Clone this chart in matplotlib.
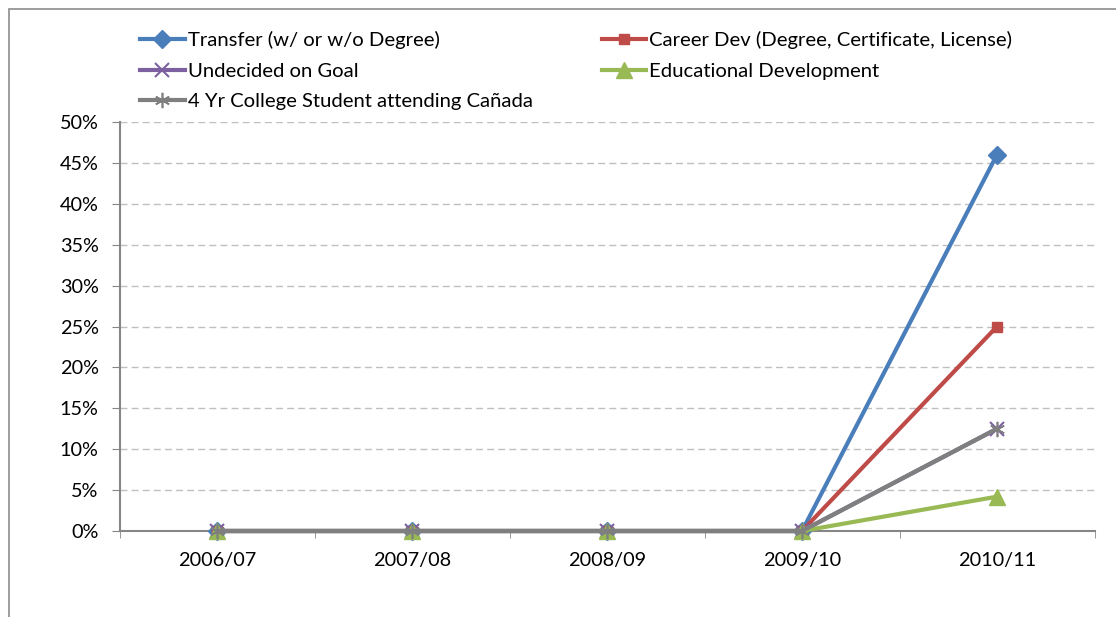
import matplotlib
matplotlib.use('Agg')
import matplotlib.pyplot as plt
from matplotlib.patches import Rectangle
from matplotlib.ticker import PercentFormatter

years = ['2006/07', '2007/08', '2008/09', '2009/10', '2010/11']
transfer = [0, 0, 0, 0, 0.46]
career_dev = [0, 0, 0, 0, 0.25]
undecided = [0, 0, 0, 0, 0.125]
educational = [0, 0, 0, 0, 0.042]
four_yr = [0, 0, 0, 0, 0.125]

plt.rcParams['font.family'] = ['Lato', 'DejaVu Sans']

W, H = 1116, 617
fig = plt.figure(figsize=(W / 100, H / 100), dpi=100)
fig.patches.append(Rectangle((9 / W, -0.1), 1.2, 1 - 9 / H + 0.1,
                             transform=fig.transFigure, fill=False,
                             edgecolor='#8c8c8c', lw=1.2))

ax = fig.add_axes([119.5 / W, 86 / H, 975 / W, 409 / H])
x = range(len(years))

h_tr, = ax.plot(x, transfer, color='#4a7ebb', lw=3, marker='D', ms=9,
                label='Transfer (w/ or w/o Degree)', clip_on=False)
h_cd, = ax.plot(x, career_dev, color='#be4b48', lw=3, marker='s', ms=7,
                label='Career Dev (Degree, Certificate, License)', clip_on=False)
h_un, = ax.plot(x, undecided, color='#7d60a0', lw=3, marker='x', ms=10, mew=1.5,
                label='Undecided on Goal', clip_on=False)
h_ed, = ax.plot(x, educational, color='#98b954', lw=3, marker='^', ms=11,
                label='Educational Development', clip_on=False)
h_4y, = ax.plot(x, four_yr, color='#7f7f7f', lw=3, marker=(6, 2, 0), ms=11,
                mew=1.2, mec='#7f7f7f', label='4 Yr College Student attending Cañada',
                clip_on=False)

ax.set_xlim(-0.5, 4.5)
ax.set_ylim(0, 0.5)
ax.set_yticks([i * 0.05 for i in range(11)])
ax.yaxis.set_major_formatter(PercentFormatter(1.0, decimals=0))
ax.set_xticks(list(x))
ax.set_xticklabels(years)
ax.set_xticks([i + 0.5 for i in range(-1, 5)], minor=True)
ax.tick_params(axis='x', which='major', length=0, pad=15, labelsize=14.3)
ax.tick_params(axis='x', which='minor', length=5, color='#868686')
ax.tick_params(axis='y', length=6, color='#868686', labelsize=14.3, pad=9)

ax.grid(axis='y', color='#bfbfbf', ls=(0, (5, 3)), lw=1)
ax.set_axisbelow(True)
for s in ['top', 'right']:
    ax.spines[s].set_visible(False)
for s in ['left', 'bottom']:
    ax.spines[s].set_color('#868686')
    ax.spines[s].set_linewidth(1.5)
ax.spines['bottom'].set_zorder(1)

handles = [h_tr, h_un, h_4y, h_cd, h_ed]
ax.legend(handles=handles, labels=[h.get_label() for h in handles], ncol=2,
          loc='upper left', bbox_to_anchor=(140 / W, 1 - 31 / H),
          bbox_transform=fig.transFigure, frameon=False, fontsize=14.6,
          handlelength=2.2, handletextpad=0.15, labelspacing=0.66,
          columnspacing=3.4, borderaxespad=0, borderpad=0)

fig.savefig('out.png', dpi=100)
